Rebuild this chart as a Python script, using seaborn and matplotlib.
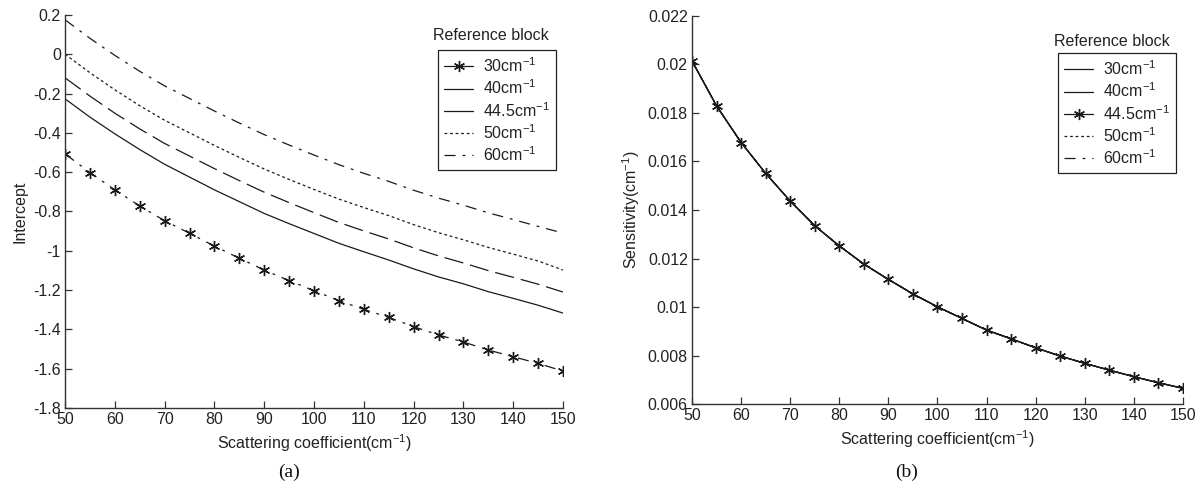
import numpy as np
import pandas as pd
import matplotlib
matplotlib.use("Agg")
import matplotlib.pyplot as plt
from matplotlib.lines import Line2D
import seaborn as sns

# ---------------- data ----------------
mu_s = [50, 55, 60, 65, 70, 75, 80, 85, 90, 95, 100, 105, 110, 115, 120, 125, 130, 135, 140, 145, 150]
series_names = ["30cm$^{-1}$", "40cm$^{-1}$", "44.5cm$^{-1}$", "50cm$^{-1}$", "60cm$^{-1}$"]

intercept_30 = [-0.507, -0.602, -0.690, -0.772, -0.847, -0.911, -0.976, -1.038, -1.098, -1.152, -1.203,
                -1.254, -1.298, -1.339, -1.386, -1.428, -1.464, -1.505, -1.539, -1.573, -1.612]
intercept_40 = [-0.227, -0.320, -0.405, -0.485, -0.560, -0.625, -0.690, -0.750, -0.810, -0.862, -0.912,
                -0.962, -1.005, -1.047, -1.092, -1.133, -1.168, -1.208, -1.242, -1.277, -1.317]
intercept_445 = [-0.120, -0.213, -0.300, -0.380, -0.454, -0.518, -0.582, -0.643, -0.702, -0.755, -0.806,
                 -0.856, -0.899, -0.940, -0.985, -1.026, -1.062, -1.101, -1.135, -1.170, -1.210]
intercept_50 = [0.000, -0.094, -0.181, -0.262, -0.336, -0.400, -0.464, -0.525, -0.584, -0.637, -0.688,
                -0.737, -0.780, -0.821, -0.867, -0.908, -0.944, -0.983, -1.017, -1.052, -1.098]
intercept_60 = [0.175, 0.081, -0.006, -0.087, -0.161, -0.225, -0.289, -0.350, -0.409, -0.462, -0.513,
                -0.562, -0.606, -0.647, -0.692, -0.732, -0.768, -0.807, -0.841, -0.876, -0.910]

sensitivity = [0.02014, 0.01829, 0.01678, 0.01551, 0.01437, 0.01335, 0.01252, 0.01177, 0.01114, 0.01054,
               0.01001, 0.00953, 0.00905, 0.00869, 0.00832, 0.00798, 0.00768, 0.00740, 0.00713, 0.00688,
               0.00665]

xticks = [50, 60, 70, 80, 90, 100, 110, 120, 130, 140, 150]
yticks_a = [0.2, 0, -0.2, -0.4, -0.6, -0.8, -1, -1.2, -1.4, -1.6, -1.8]
yticklabels_a = ["0.2", "0", "-0.2", "-0.4", "-0.6", "-0.8", "-1", "-1.2", "-1.4", "-1.6", "-1.8"]
yticks_b = [0.022, 0.02, 0.018, 0.016, 0.014, 0.012, 0.01, 0.008, 0.006]
yticklabels_b = ["0.022", "0.02", "0.018", "0.016", "0.014", "0.012", "0.01", "0.008", "0.006"]

# ---------------- style ----------------
sns.set_style("ticks")
plt.rcParams["font.family"] = ["Liberation Sans", "DejaVu Sans"]
plt.rcParams["mathtext.default"] = "regular"
plt.rcParams["axes.unicode_minus"] = False
plt.rcParams["lines.scale_dashes"] = False

INK = "#1a1a1a"
ASTER = (6, 2, 0)
styles = {
    "dashdot": (0, (8, 5, 2, 5)),
    "dash": (0, (14, 5)),
    "dot": (0, (2, 2)),
    "solid": "-",
}

fig = plt.figure(figsize=(12, 4.97), dpi=100)
axa = fig.add_axes([0.0542, 0.179, 0.415, 0.791])
axb = fig.add_axes([0.5767, 0.187, 0.409, 0.781])

# ---------------- panel (a) ----------------
df_a = pd.DataFrame({
    "mu": mu_s * 5,
    "val": intercept_30 + intercept_40 + intercept_445 + intercept_50 + intercept_60,
    "series": sum([[n] * len(mu_s) for n in series_names], []),
})
line_style_a = ["dashdot", "solid", "dash", "dot", "dashdot"]
marker_a = [ASTER, None, None, None, None]
for name, ls, mk in zip(series_names, line_style_a, marker_a):
    sub = df_a[df_a["series"] == name]
    sns.lineplot(data=sub, x="mu", y="val", ax=axa, color=INK, linewidth=0.9,
                 linestyle=styles[ls], marker=mk, markersize=8, markeredgewidth=1.0,
                 markeredgecolor=INK, legend=False)

# ---------------- panel (b) ----------------
df_b = pd.DataFrame({
    "mu": mu_s * 5,
    "val": sensitivity * 5,
    "series": sum([[n] * len(mu_s) for n in series_names], []),
})
line_style_b = ["solid", "solid", "solid", "dot", "dashdot"]
marker_b = [None, None, ASTER, None, None]
for name, ls, mk in zip(series_names, line_style_b, marker_b):
    sub = df_b[df_b["series"] == name]
    sns.lineplot(data=sub, x="mu", y="val", ax=axb, color=INK, linewidth=0.9,
                 linestyle=styles[ls], marker=mk, markersize=8, markeredgewidth=1.0,
                 markeredgecolor=INK, legend=False)

# ---------------- axes formatting ----------------
for ax in (axa, axb):
    sns.despine(ax=ax)
    ax.spines["left"].set_color("#333333")
    ax.spines["bottom"].set_color("#333333")
    ax.spines["left"].set_linewidth(1.0)
    ax.spines["bottom"].set_linewidth(1.0)
    ax.set_xlim(50, 150)
    ax.set_xticks(xticks)
    ax.set_xticklabels([str(t) for t in xticks])
    ax.tick_params(direction="in", length=5, width=0.9, labelsize=11.5, colors="#333333",
                   labelcolor="#222222", pad=3)
    ax.set_xlabel("Scattering coefficient(cm$^{-1}$)", fontsize=11.5, color="#222222", labelpad=4)

axa.set_ylim(-1.8, 0.2)
axa.set_yticks(yticks_a)
axa.set_yticklabels(yticklabels_a)
axa.set_ylabel("Intercept", fontsize=11.5, color="#222222", labelpad=4)

axb.set_ylim(0.006, 0.022)
axb.set_yticks(yticks_b)
axb.set_yticklabels(yticklabels_b)
axb.set_ylabel("Sensitivity(cm$^{-1}$)", fontsize=11.5, color="#222222", labelpad=4)

# ---------------- legends ----------------
def make_handles(ls_list, mk_list):
    hs = []
    for ls, mk in zip(ls_list, mk_list):
        hs.append(Line2D([], [], color=INK, linewidth=0.9, linestyle=styles[ls],
                         marker=mk if mk is not None else None, markersize=8,
                         markeredgewidth=1.0, markeredgecolor=INK))
    return hs

leg_a_styles = ["solid", "solid", "solid", "dot", "dashdot"]
leg_a_marks = [ASTER, None, None, None, None]
leg_b_styles = ["solid", "solid", "solid", "dot", "dashdot"]
leg_b_marks = [None, None, ASTER, None, None]

for ax, ls_l, mk_l, anchor, title_xy in [
    (axa, leg_a_styles, leg_a_marks, (438, 50), (491, 35)),
    (axb, leg_b_styles, leg_b_marks, (1058, 53), (1112, 42)),
]:
    leg = ax.legend(make_handles(ls_l, mk_l), series_names,
                    loc="upper left",
                    bbox_to_anchor=(anchor[0] / 1200, 1 - anchor[1] / 497),
                    bbox_transform=fig.transFigure,
                    fontsize=11.5, frameon=True, fancybox=False, handlelength=1.8,
                    handletextpad=0.6, labelspacing=0.22, borderpad=0.4, borderaxespad=0)
    leg.get_frame().set_edgecolor("#222222")
    leg.get_frame().set_linewidth(0.9)
    leg.get_frame().set_alpha(1.0)
    for t in leg.get_texts():
        t.set_color("#222222")
    fig.text(title_xy[0] / 1200, 1 - title_xy[1] / 497, "Reference block", ha="center",
             va="center", fontsize=11.5, color="#222222")

# ---------------- panel tags ----------------
fig.text(289 / 1200, 1 - 472 / 497, "(a)", ha="center", va="center", fontsize=14,
         family=["Liberation Serif", "DejaVu Serif"], color="#111111")
fig.text(907 / 1200, 1 - 472 / 497, "(b)", ha="center", va="center", fontsize=14,
         family=["Liberation Serif", "DejaVu Serif"], color="#111111")

fig.savefig("out.png", dpi=100)
